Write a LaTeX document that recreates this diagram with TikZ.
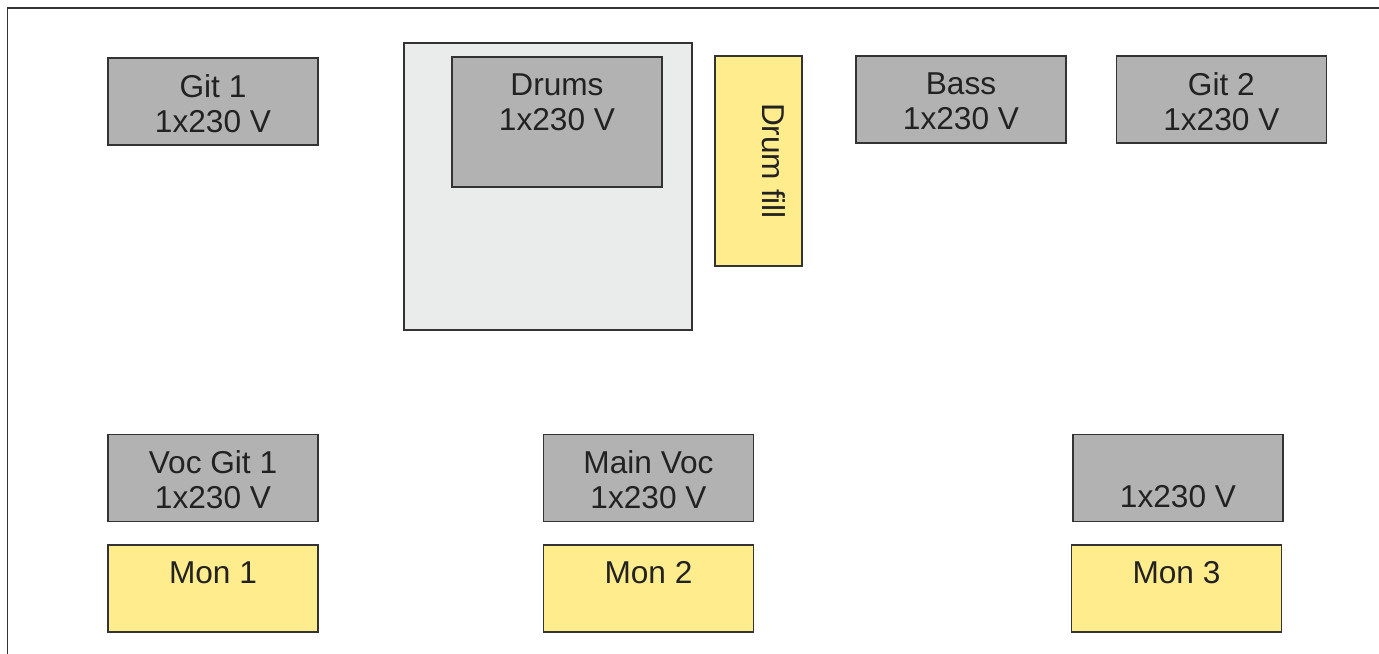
\documentclass[tikz,border=0pt]{standalone}
\usepackage{fontspec}
\setmainfont{Liberation Sans}
\usetikzlibrary{positioning}
\definecolor{ampgray}{HTML}{B1B2B1}
\definecolor{risergray}{HTML}{EAECEB}
\definecolor{monyellow}{HTML}{FFEC8C}
\definecolor{edgegray}{HTML}{333333}
\definecolor{txtgray}{HTML}{222222}

\begin{document}
\begin{tikzpicture}[
  x=0.02cm, y=-0.02cm,
  unit/.style={rectangle, draw=edgegray, line width=0.8pt, minimum width=4.2cm, minimum height=1.74cm, inner sep=0pt},
  amp/.style={unit, fill=ampgray},
  mon/.style={unit, fill=monyellow},
  tag/.style={anchor=north, align=center, inner xsep=0pt, inner ysep=9.5pt, text=txtgray, font=\fontsize{18}{20}\selectfont}
]
\clip (0,0) rectangle (1379,653);
\draw[edgegray, line width=1.1pt] (7.5,8) rectangle (1420,700);

% back line
\node[amp] (git1) at (213,101.5) {};
\node[unit, fill=risergray, minimum width=5.76cm, minimum height=5.74cm] (riser) at (548,186.5) {};
\node[amp, minimum height=2.6cm] (drums) at (557,122) {};
\node[mon, minimum width=1.74cm, minimum height=4.2cm] (fill) at (758.5,161) {};
\node[amp] (bass) at (961,99.5) {};
\node[amp, right=0.98cm of bass] (git2) {};

% front line
\node[amp] (vocgit1) at (213,478) {};
\node[amp] (mainvoc) at (648.5,478) {};
\node[amp] (spare) at (1178,478) {};
\node[mon, below=0.44cm of vocgit1] (mon1) {};
\node[mon, below=0.44cm of mainvoc] (mon2) {};
\node[mon] (mon3) at (1176.5,588.5) {};

\node[tag] (git1-t) at (git1.north) {Git 1\\1x230 V};
\node[tag] (drums-t) at (drums.north) {Drums\\1x230 V};
\node[tag, rotate=-90] (fill-t) at (fill.east) {Drum fill};
\node[tag] (bass-t) at (bass.north) {Bass\\1x230 V};
\node[tag] (git2-t) at (git2.north) {Git 2\\1x230 V};
\node[tag] (vocgit1-t) at (vocgit1.north) {Voc Git 1\\1x230 V};
\node[tag] (mainvoc-t) at (mainvoc.north) {Main Voc\\1x230 V};
\node[tag] (spare-t) at (spare.north) {\vphantom{1}\\1x230 V};
\node[tag] (mon1-t) at (mon1.north) {Mon 1};
\node[tag] (mon2-t) at (mon2.north) {Mon 2};
\node[tag] (mon3-t) at (mon3.north) {Mon 3};
\end{tikzpicture}
\end{document}
